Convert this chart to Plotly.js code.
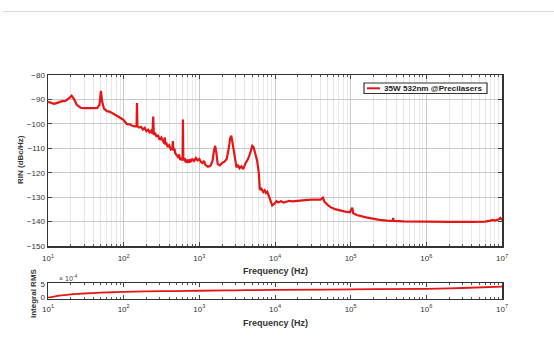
<!DOCTYPE html>
<html><head><meta charset="utf-8">
<script src="https://cdn.plot.ly/plotly-3.0.1.min.js"></script>
<style>
html,body{margin:0;padding:0;background:#fff;width:554px;height:361px;overflow:hidden}
#topline{position:absolute;left:3px;right:0;top:11px;height:1px;background:#d8d8d8;box-shadow:0 2px 3px rgba(0,0,0,0.06);z-index:5}
#chart{position:absolute;left:0;top:0;width:554px;height:361px}
</style></head>
<body>
<div id="topline"></div>
<div id="chart"></div>
<script>
// RIN spectrum (Hz, dBc/Hz)
const freq = [10,11,12,13,15,17,18,19,20.5,22,24,27,30,35,40,45,48,50,52,55,60,65,70,80,90,100,110,120,130,140,148,150,152,160,170,180,190,200,210,220,230,240,246,250,260,270,285,300,315,330,345,350,355,365,380,400,420,440,447,455,470,480,500,520,540,560,580,600,607,615,640,660,680,700,720,740,760,780,800,850,900,950,1000,1050,1100,1150,1200,1300,1400,1500,1560,1620,1680,1750,1870,2000,2150,2300,2450,2550,2650,2750,2850,3000,3100,3250,3400,3600,3800,4100,4400,4700,5000,5200,5500,5800,6100,6300,6600,7000,7300,7600,7900,8200,8600,9200,9900,10500,11000,12000,13000,14000,15500,17000,20000,25000,30000,35000,40000,43000,45000,50000,55000,62000,72000,85000,98000,105000,108000,120000,160000,200000,240000,300000,360000,365000,370000,500000,700000,1000000,2000000,4000000,6000000,7000000,7500000,8000000,9000000,9500000,10000000];
const rin = [-91,-91.3,-91.8,-91.5,-90.8,-90.6,-90.2,-89.5,-88.5,-89.8,-92.2,-93.4,-93.6,-93.7,-93.6,-93.5,-92,-86.5,-91,-93.8,-94.8,-95,-95.5,-96.5,-97.5,-98.5,-100,-100.2,-100.8,-101,-101,-91.5,-101,-101.5,-101.2,-102.3,-101.6,-103,-102.4,-103.5,-102.8,-104,-97,-104.5,-103.6,-105,-104.8,-106.5,-105.6,-107,-108,-105.5,-108.5,-107.5,-109.5,-108.8,-110.5,-110,-107,-111,-110.2,-112,-112.8,-113.5,-112.6,-114.8,-114,-115,-98.2,-115,-114,-115.8,-114.6,-116,-114.6,-115.9,-114.5,-115.6,-114.3,-115.2,-114,-115,-114.4,-115.6,-116,-115.2,-116.8,-117.6,-117.2,-115,-111,-109,-112,-116.5,-117,-116,-115.5,-114.4,-110,-106,-104.8,-108,-112,-116,-117.8,-116.8,-118.2,-117.4,-118.5,-116,-114.4,-112,-109,-109.5,-112,-115,-120,-127,-126.5,-127.9,-127.2,-128.3,-127.8,-129,-130.5,-133.4,-132.6,-131.6,-132.2,-131.7,-132.2,-131.8,-131.5,-131.7,-131.4,-131.2,-131,-130.9,-131,-130.2,-131.8,-133.3,-134.2,-134.9,-135.5,-135.9,-136.2,-134.3,-136.6,-137.3,-138.3,-138.9,-139.3,-139.6,-139.7,-138.5,-139.7,-139.9,-140,-140,-140.1,-140.1,-140,-139.6,-139.3,-139.6,-139.2,-138.5,-139.4];
// Integral RMS (units of 1e-4)
const rmsFreq = [10,12,15,20,30,50,70,100,200,500,1000,3000,10000,100000,1000000,3000000,10000000];
const rmsVal = [0,0.4,0.8,1.2,1.5,1.8,1.95,2.1,2.25,2.4,2.5,2.65,2.8,3.0,3.2,3.5,4.0];
const yTicks = [-150,-140,-130,-120,-110,-100,-90,-80];
const xTickVals = [10,100,1000,10000,100000,1000000,10000000];
const xTickText = ['10<sup>1</sup>','10<sup>2</sup>','10<sup>3</sup>','10<sup>4</sup>','10<sup>5</sup>','10<sup>6</sup>','10<sup>7</sup>'];
const seriesName = '35W 532nm @Precilasers';

const W=554,H=361;
const px = v=>v/W, py = v=>1-v/H;
const red='rgb(228,22,22)';
const FF='Liberation Sans, Arial, sans-serif';
const tickFont={family:FF,size:8,color:'#333'};

const commonX = {
  type:'log', range:[1,7], tickvals:xTickVals, ticktext:xTickText,
  ticks:'inside', ticklen:4, tickcolor:'#444', mirror:'ticks',
  showline:true, linecolor:'#333', linewidth:1.5,
  tickfont:tickFont, zeroline:false
};

const layout = {
  width:W, height:H, margin:{l:0,r:0,t:0,b:0},
  paper_bgcolor:'#fff', plot_bgcolor:'#fff',
  showlegend:false,
  xaxis: Object.assign({}, commonX, {domain:[px(48),px(502)], anchor:'y', ticklabelstandoff:4,
    showgrid:true, gridcolor:'#c8c8c8', gridwidth:1,
    minor:{dtick:'D1', ticks:'inside', ticklen:2, tickcolor:'#555', showgrid:true, gridcolor:'#e8e8e8', gridwidth:1}}),
  yaxis: {domain:[py(246),py(75)], anchor:'x', range:[-150,-80], tickvals:yTicks,
    ticks:'inside', ticklen:4, tickcolor:'#444', mirror:'ticks',
    showline:true, linecolor:'#333', linewidth:1.5, showgrid:true, gridcolor:'#c8c8c8',
    tickfont:tickFont, zeroline:false},
  xaxis2: Object.assign({}, commonX, {domain:[px(48),px(502)], anchor:'y2', showgrid:false, ticklabelstandoff:2,
    minor:{dtick:'D1', ticks:'inside', ticklen:2, tickcolor:'#555', showgrid:false}}),
  yaxis2: {domain:[py(298.5),py(283)], anchor:'x2', range:[-0.3,5.3], tickvals:[0,5], ticktext:['0','5'],
    ticks:'inside', ticklen:3, tickcolor:'#444', mirror:'ticks',
    showline:true, linecolor:'#333', linewidth:1.5, showgrid:false,
    tickfont:tickFont, zeroline:false},
  shapes:[
    {type:'rect', xref:'paper', yref:'paper', x0:px(364), x1:px(487), y0:py(93.5), y1:py(83),
      line:{color:'#333', width:1.2}, fillcolor:'#fff', layer:'above'},
    {type:'line', xref:'paper', yref:'paper', x0:px(367), x1:px(380), y0:py(88.3), y1:py(88.3),
      line:{color:red, width:2}, layer:'above'}
  ],
  annotations:[
    {text:'<b>'+seriesName+'</b>', xref:'paper', yref:'paper', x:px(381.5), y:py(88.3), xanchor:'left', yanchor:'middle',
      showarrow:false, font:{family:FF, size:8.1, color:'#222'}},
    {text:'<b>RIN (dBc/Hz)</b>', xref:'paper', yref:'paper', x:px(20), y:py(160), textangle:-90,
      xanchor:'center', yanchor:'middle',
      showarrow:false, font:{family:FF, size:8, color:'#333'}},
    {text:'<b>Frequency (Hz)</b>', xref:'paper', yref:'paper', x:px(275), y:py(271),
      xanchor:'center', yanchor:'middle',
      showarrow:false, font:{family:FF, size:9, color:'#333'}},
    {text:'<b>Frequency (Hz)</b>', xref:'paper', yref:'paper', x:px(275), y:py(323),
      xanchor:'center', yanchor:'middle',
      showarrow:false, font:{family:FF, size:9, color:'#333'}},
    {text:'<b>Integral RMS</b>', xref:'paper', yref:'paper', x:px(33), y:py(293), textangle:-90,
      xanchor:'center', yanchor:'middle',
      showarrow:false, font:{family:FF, size:8, color:'#333'}},
    {text:'× 10<sup>-4</sup>', xref:'paper', yref:'paper', x:px(57), y:py(278), xanchor:'left', yanchor:'middle',
      showarrow:false, font:{family:FF, size:7, color:'#444'}}
  ]
};

const data = [
  {x:freq, y:rin, type:'scatter', mode:'lines', name:seriesName, xaxis:'x', yaxis:'y',
   line:{color:red, width:2.2}},
  {x:rmsFreq, y:rmsVal, type:'scatter', mode:'lines', name:'rms', showlegend:false, xaxis:'x2', yaxis:'y2',
   line:{color:red, width:1.8, shape:'spline'}}
];
Plotly.newPlot('chart', data, layout, {staticPlot:true, displayModeBar:false});
</script>
</body></html>
